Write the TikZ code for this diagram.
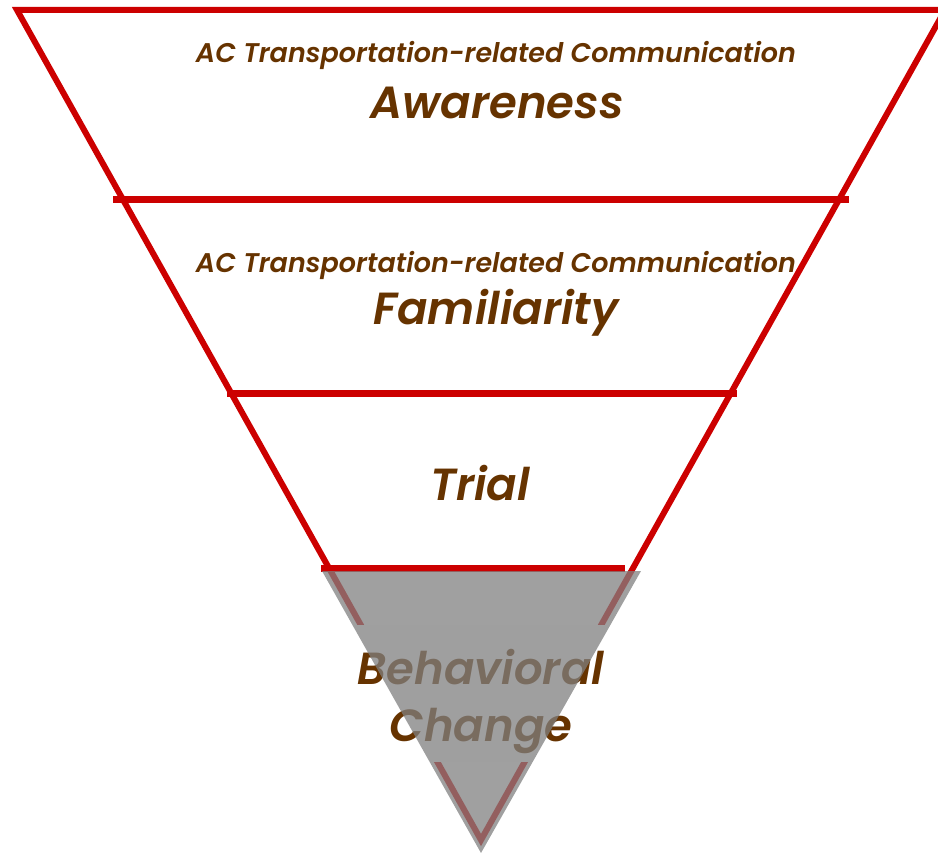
\documentclass[tikz,border=0pt]{standalone}
\usepackage{fontspec}
\setmainfont{Poppins}
\newfontfamily\popsb{Poppins SemiBold Italic}
\definecolor{fred}{HTML}{CC0000}
\definecolor{fbrown}{HTML}{663300}
\begin{document}
\begin{tikzpicture}[x=1pt,y=-1pt,
  edge/.style={draw=fred,line width=6pt,line join=miter},
  sepline/.style={draw=fred,line width=7pt},
  sub/.style={font=\popsb\fontsize{27}{30}\selectfont, text=fbrown, anchor=base, inner sep=0pt},
  lab/.style={font=\popsb\fontsize{45}{50}\selectfont, text=fbrown, anchor=base, inner sep=0pt},
  veil/.style={fill=black!50, fill opacity=0.75, draw=none}]
\useasboundingbox (0,0) rectangle (938,853);
% funnel outline
\coordinate (tl) at (17,10);
\coordinate (tr) at (945,10);
\coordinate (tip) at (481,840);
\draw[edge] (tl) -- (tr) -- (tip) -- cycle;
% separators
\coordinate (s1a) at (113,200); \coordinate (s1b) at (849,200);
\coordinate (s2a) at (227,393); \coordinate (s2b) at (737,393);
\coordinate (s3a) at (321,568); \coordinate (s3b) at (625,568);
\draw[sepline] (s1a) -- (s1b);
\draw[sepline] (s2a) -- (s2b);
\draw[sepline] (s3a) -- (s3b);
% white box behind bottom label
\fill[white] (330,625) rectangle (632,762);
% labels
\node[sub] (sub1) at (496,63) {AC Transportation-related Communication};
\node[lab] (aw) at (497,119) {Awareness};
\node[sub] (sub2) at (496,273) {AC Transportation-related Communication};
\node[lab] (fa) at (496,325) {Familiarity};
\node[lab] (tr1) at (480,500) {Trial};
\node[lab] (be) at (481,684) {Behavioral};
\node[lab] (ch) at (481,741) {Change};
% grey triangle
\coordinate (g1) at (322,571);
\coordinate (g2) at (641,571);
\coordinate (g3) at (481,853);
\fill[veil] (g1) -- (g2) -- (g3) -- cycle;
\end{tikzpicture}
\end{document}
